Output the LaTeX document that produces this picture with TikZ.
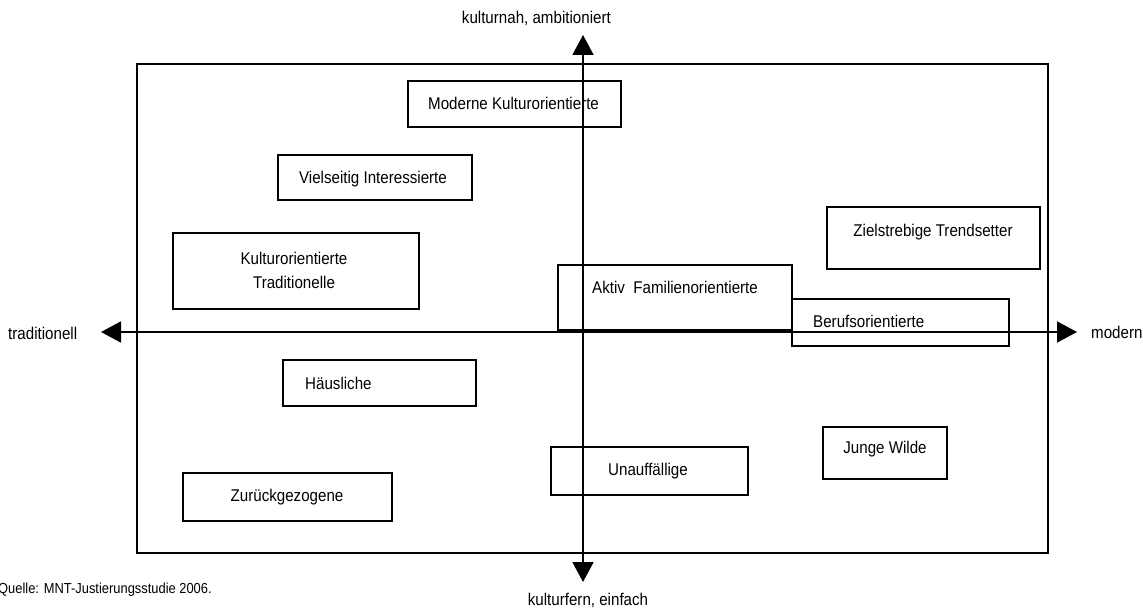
\documentclass[tikz,border=0pt]{standalone}
\usepackage{fontspec}
\setmainfont{Liberation Sans}[FakeStretch=0.89]
\usetikzlibrary{arrows.meta}
\begin{document}
\begin{tikzpicture}[x=1pt,y=-1pt,
  every node/.style={font=\fontsize{17pt}{24pt}\selectfont, inner sep=0pt},
  box/.style={draw, line width=1.8pt, inner sep=0pt},
  frame/.style={draw, line width=1.8pt},
  axis/.style={line width=1.8pt, {Triangle[length=20pt,width=21pt]}-{Triangle[length=20pt,width=21pt]}},
  lbl/.style={text=black},
  small/.style={font=\fontsize{14.5pt}{18pt}\selectfont}]
\useasboundingbox (0,0) rectangle (1143,609);
% frame
\draw[frame] (137,64) rectangle (1048,553);
% axes
\coordinate (top) at (583,35);
\coordinate (bottom) at (583,582);
\coordinate (left) at (101,332);
\coordinate (right) at (1077,332);
\draw[axis] (left) -- (right);
\draw[axis] (bottom) -- (top);
% axis labels
\node[lbl, anchor=east] (ltop) at (611,18) {kulturnah, ambitioniert};
\node[lbl] (lbottom) at (588,600) {kulturfern, einfach};
\node[lbl, anchor=west] (lleft) at (8,333) {traditionell};
\node[lbl, anchor=west] (lright) at (1091,332) {modern};
\node[lbl, small, anchor=west] (src) at (-2,590) {Quelle: MNT-Justierungsstudie 2006.};
% boxes
\node[box, minimum width=213pt, minimum height=46pt] (mk) at (514.5,104) {};
\node[lbl, anchor=west] (tmk) at (428,103) {Moderne Kulturorientierte};
\node[box, minimum width=194pt, minimum height=45pt] (vi) at (375,177.5) {};
\node[lbl] (tvi) at (373,179) {Vielseitig Interessierte};
\node[box, minimum width=246pt, minimum height=76pt] (kt) at (296,271) {};
\node[lbl, align=center] (tkt) at (294,270) {Kulturorientierte\\Traditionelle};
\node[box, minimum width=213pt, minimum height=62pt] (zt) at (933.5,238) {};
\node[lbl] (tzt) at (933,232) {Zielstrebige Trendsetter};
\node[box, minimum width=234pt, minimum height=65pt] (af) at (675,297.5) {};
\node[lbl, anchor=west] (taf) at (592,287) {Aktiv\ \ Familienorientierte};
\node[box, minimum width=217pt, minimum height=47pt] (bo) at (900.5,322.5) {};
\node[lbl, anchor=west] (tbo) at (813,321) {Berufsorientierte};
\node[box, minimum width=193pt, minimum height=46pt] (hs) at (379.5,383) {};
\node[lbl, anchor=west] (ths) at (305,383) {Häusliche};
\node[box, minimum width=209pt, minimum height=48pt] (zg) at (287.5,497) {};
\node[lbl] (tzg) at (287,497) {Zurückgezogene};
\node[box, minimum width=197pt, minimum height=48pt] (un) at (649.5,471) {};
\node[lbl] (tun) at (648,471) {Unauffällige};
\node[box, minimum width=124pt, minimum height=52pt] (jw) at (885,453) {};
\node[lbl] (tjw) at (885,449) {Junge Wilde};
\end{tikzpicture}
\end{document}
